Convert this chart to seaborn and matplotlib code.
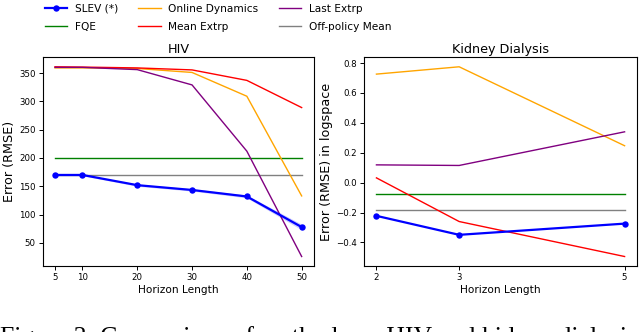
#!/usr/bin/env python3
"""
plot.py
Off-policy evaluation error vs. horizon length, HIV and Kidney Dialysis.
"""
import matplotlib
matplotlib.use("Agg")

import pandas as pd
import matplotlib.pyplot as plt
import seaborn as sns

# ─────────────────────── data ─────────────────────
HIV_H       = [5, 10, 20, 30, 40, 50]
HIV_SLEV    = [170, 170, 152, 143.5, 132, 78]
HIV_SLEV_LO = [168.5, 168.5, 150, 141.5, 129.5, 73]
HIV_SLEV_HI = [171.5, 171.5, 154, 145.5, 134.5, 83]
HIV_ONLINE  = [359, 359, 358, 351, 309, 133]
HIV_MEAN    = [361, 360.5, 359, 355.5, 337, 289]
HIV_LAST    = [360, 360, 356, 329, 212, 26]
HIV_FQE     = [200, 200, 200, 200, 200, 200]
HIV_OFF     = [170, 170, 170, 170, 170, 170]

KID_H       = [2, 3, 5]
KID_SLEV    = [-0.222, -0.349, -0.274]
KID_ONLINE  = [0.726, 0.775, 0.247]
KID_MEAN    = [0.032, -0.26, -0.494]
KID_LAST    = [0.119, 0.115, 0.34]
KID_FQE     = [-0.073, -0.073, -0.073]
KID_OFF     = [-0.182, -0.182, -0.182]

# legend order (3 columns, filled column-wise)
METHODS = ["SLEV (*)", "FQE", "Online Dynamics", "Mean Extrp", "Last Extrp", "Off-policy Mean"]
COLORS  = {
    "SLEV (*)": "blue",
    "FQE": "green",
    "Online Dynamics": "orange",
    "Mean Extrp": "red",
    "Last Extrp": "purple",
    "Off-policy Mean": "grey",
}
# drawing order
DRAW = ["FQE", "Off-policy Mean", "Online Dynamics", "Mean Extrp", "Last Extrp", "SLEV (*)"]

CAPTION = "Figure 3: Comparison of methods on HIV and kidney dialysis"


def long_frame(h, series):
    rows = []
    for name, vals in series.items():
        for x, v in zip(h, vals):
            rows.append({"horizon": x, "error": v, "method": name})
    return pd.DataFrame(rows)


hiv_df = long_frame(HIV_H, {
    "SLEV (*)": HIV_SLEV, "FQE": HIV_FQE, "Online Dynamics": HIV_ONLINE,
    "Mean Extrp": HIV_MEAN, "Last Extrp": HIV_LAST, "Off-policy Mean": HIV_OFF,
})
kid_df = long_frame(KID_H, {
    "SLEV (*)": KID_SLEV, "FQE": KID_FQE, "Online Dynamics": KID_ONLINE,
    "Mean Extrp": KID_MEAN, "Last Extrp": KID_LAST, "Off-policy Mean": KID_OFF,
})

# ─────────────────────── figure ─────────────────────────────────────────
fig = plt.figure(figsize=(6.4, 3.32), dpi=100)
ax1 = fig.add_axes([0.0667, 0.1988, 0.4239, 0.6286])
ax2 = fig.add_axes([0.5688, 0.1988, 0.4265, 0.6286])


def draw(ax, df):
    for name in DRAW:
        sub = df[df["method"] == name]
        if name == "SLEV (*)":
            sns.lineplot(data=sub, x="horizon", y="error", ax=ax, color=COLORS[name],
                         lw=1.6, marker="o", markersize=4.6, markeredgewidth=0,
                         errorbar=None, label=name)
        else:
            sns.lineplot(data=sub, x="horizon", y="error", ax=ax, color=COLORS[name],
                         lw=1.0, errorbar=None, label=name)
    ax.get_legend().remove()


draw(ax1, hiv_df)
ax1.fill_between(HIV_H, HIV_SLEV_LO, HIV_SLEV_HI, color="blue", alpha=0.2, lw=0)
draw(ax2, kid_df)

for ax, title, ylab, xt in [
    (ax1, "HIV", "Error (RMSE)", HIV_H),
    (ax2, "Kidney Dialysis", "Error (RMSE) in logspace", KID_H),
]:
    ax.set_title(title, fontsize=9.2, pad=3)
    ax.set_xlabel("Horizon Length", fontsize=7.6, labelpad=2)
    ax.set_ylabel(ylab, fontsize=9.2, labelpad=2)
    ax.set_xticks(xt)
    ax.tick_params(labelsize=6.2, length=3, width=0.7, pad=2)
    for s in ax.spines.values():
        s.set_linewidth(0.8)

# figure legend on top
handles, labels = ax1.get_legend_handles_labels()
lookup = dict(zip(labels, handles))
fig.legend([lookup[m] for m in METHODS], METHODS, ncol=3, frameon=False,
           loc="upper left", bbox_to_anchor=(0.062, 1.005), borderpad=0,
           fontsize=7.6, handlelength=2.1, handletextpad=0.75,
           columnspacing=1.9, labelspacing=0.75)

# caption, cut off at the bottom edge like the source
fig.text(0.0, 1 - 326 / 332, CAPTION, family="Liberation Serif",
         fontsize=18.5, va="top", ha="left")

fig.savefig("out.png", dpi=100)
